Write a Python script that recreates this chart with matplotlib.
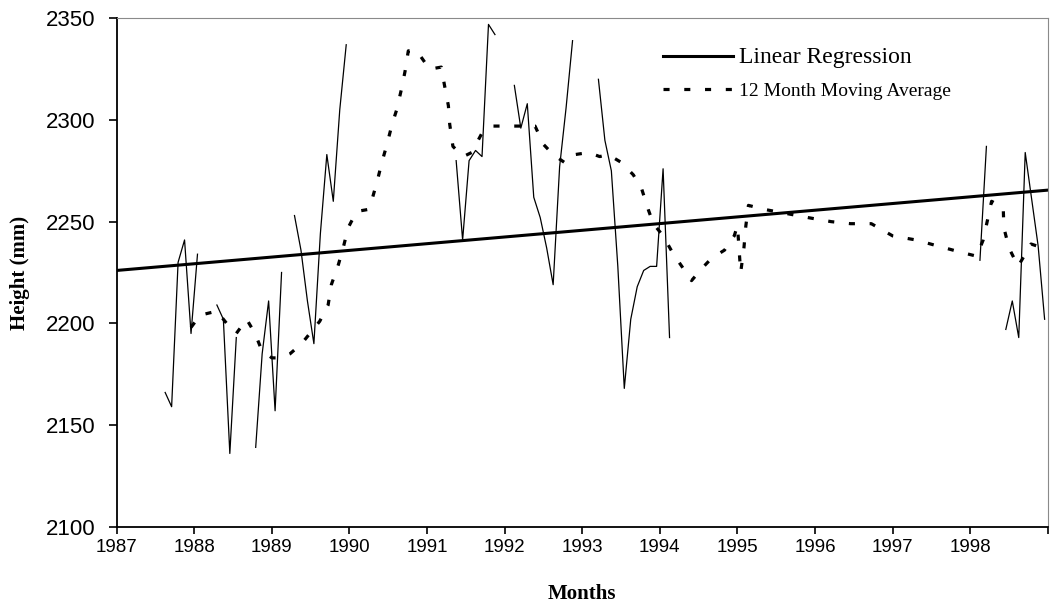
import numpy as np
import matplotlib
matplotlib.use('Agg')
import matplotlib.pyplot as plt
from matplotlib import font_manager

nan = np.nan

# monthly heights (months counted from Jan 1987), nan = gap in the record
raw_months = [7, 8, 9, 10, 11, 12, nan,
              15, 16, 17, 18, nan,
              21, 22, 23, 24, 25, nan,
              27, 28, 29, 30, 31, 32, 33, 34, 35, nan,
              52, 53, 54, 55, 56, 57, 58, nan,
              61, 62, 63, 64, 65, 66, 67, 68, 69, 70, nan,
              74, 75, 76, 77, 78, 79, 80, 81, 82, 83, 84, 85, nan,
              133, 134, nan,
              137, 138, 139, 140, 141, 142, 143]
raw_values = [2166, 2159, 2230, 2241, 2195, 2234, nan,
              2209, 2202, 2136, 2193, nan,
              2139, 2185, 2211, 2157, 2225, nan,
              2253, 2236, 2211, 2190, 2244, 2283, 2260, 2305, 2337, nan,
              2280, 2241, 2280, 2285, 2282, 2347, 2342, nan,
              2317, 2296, 2308, 2262, 2252, 2237, 2219, 2277, 2306, 2339, nan,
              2320, 2290, 2275, 2228, 2168, 2202, 2218, 2226, 2228, 2228, 2276, 2193, nan,
              2231, 2287, nan,
              2197, 2211, 2193, 2284, 2261, 2238, 2202]

# 12 month moving average
ma_months = [11, 12.4, 15, 16.5, 18, 19.6, 20.9, 21.9, 23.5, 24.8, 26.3, 28.1,
             30.9, 32.2, 32.7, 33.8, 34.6, 35.3, 36.6, 38.4, 39.0, 39.8, 40.5,
             41.3, 42.1, 42.8, 43.6, 44.1, 44.6, 45.9, 47.9, 49.7, 50.2, 50.8,
             51.0, 51.5, 53.1, 54.4, 55.9, 57.7, 59.8, 61.3, 64.2, 65.5, 67.0,
             68.8, 70.4, 72.5, 74.2, 75.5, 77.6, 79.4, 80.7, 81.7, 82.5, 84.0,
             85.6, 86.9, 88.4, 90.0, 91.5, 93.5, 95.0, 95.5, 96.0, 96.5, 96.8,
             97.2, 99.7, 103.1, 106.4, 110.0, 113.0, 116.2, 119.5, 123.1, 126.5,
             130.0, 132.5, 133.5, 134.8, 136.6, 136.7, 137.5, 138.9, 140.9, 142.8]
ma_values = [2198, 2204, 2206, 2200, 2195, 2202, 2195, 2187, 2183, 2183, 2185, 2190,
             2201, 2209, 2219, 2229, 2238, 2247, 2255, 2256, 2261, 2270, 2279,
             2288, 2298, 2305, 2316, 2324, 2334, 2334, 2325, 2326, 2317, 2307,
             2298, 2287, 2282, 2284, 2293, 2297, 2297, 2297, 2297, 2288, 2283,
             2279, 2283, 2284, 2282, 2283, 2279, 2273, 2266, 2256, 2249, 2243,
             2234, 2228, 2221, 2227, 2232, 2236, 2243, 2248, 2225, 2237, 2248,
             2258, 2256, 2254, 2252, 2250, 2249, 2249, 2243, 2241, 2238,
             2235, 2233, 2241, 2260, 2257, 2247, 2237, 2228, 2239, 2237]

# linear regression end points
reg_months = [-0.5, 143.5]
reg_values = [2226, 2265.5]

year_ticks = list(range(1987, 2000))
year_labels = [str(y) for y in range(1987, 1999)] + ['']
height_ticks = [2100, 2150, 2200, 2250, 2300, 2350]


def to_year(months):
    return 1987 + (np.asarray(months, dtype=float) + 0.5) / 12.0


# narrow sans for the year labels if it is installed
try:
    font_manager.findfont('Liberation Sans Narrow', fallback_to_default=False)
    xfont, xsize = 'Liberation Sans Narrow', 16
except ValueError:
    xfont, xsize = 'Liberation Sans', 13.5

fig = plt.figure(figsize=(10.51, 6.10), dpi=100)
ax = fig.add_axes([0.111, 0.1366, 0.886, 0.8334])

ax.plot(to_year(raw_months), np.asarray(raw_values, dtype=float),
        color='black', lw=0.9)
ax.plot(to_year(ma_months), ma_values, color='black', lw=2.3,
        linestyle=(0, (1.9, 4.6)), label='12 Month Moving Average')
ax.plot(to_year(reg_months), reg_values, color='black', lw=2.2,
        label='Linear Regression')

ax.set_xlim(1987, 1999)
ax.set_ylim(2100, 2350)
ax.set_xticks(year_ticks)
ax.set_xticklabels(year_labels)
ax.set_yticks(height_ticks)

for lab in ax.get_yticklabels():
    lab.set_fontfamily('Liberation Sans')
    lab.set_fontsize(16)
for lab in ax.get_xticklabels():
    lab.set_fontfamily(xfont)
    lab.set_fontsize(xsize)

ax.tick_params(axis='y', direction='out', length=6, width=1.2, pad=9)
ax.tick_params(axis='x', direction='out', length=5, width=1.2, pad=4)

for side in ['left', 'bottom']:
    ax.spines[side].set_linewidth(1.3)
for side in ['top', 'right']:
    ax.spines[side].set_linewidth(0.8)
    ax.spines[side].set_color('#8a8a8a')

ax.set_xlabel('Months', fontfamily='Liberation Serif', fontweight='bold',
              fontsize=15, labelpad=20)
ax.set_ylabel('Height (mm)', fontfamily='Liberation Serif', fontweight='bold',
              fontsize=15, labelpad=12)

handles, labels = ax.get_legend_handles_labels()
leg = ax.legend(handles[::-1], labels[::-1], loc='upper left',
                bbox_to_anchor=(0.568, 0.978), frameon=False,
                handlelength=3.6, handletextpad=0.3, labelspacing=0.75,
                prop={'family': 'Liberation Serif', 'size': 14})
leg.get_texts()[0].set_fontsize(17)

fig.savefig('out.png', dpi=100)
